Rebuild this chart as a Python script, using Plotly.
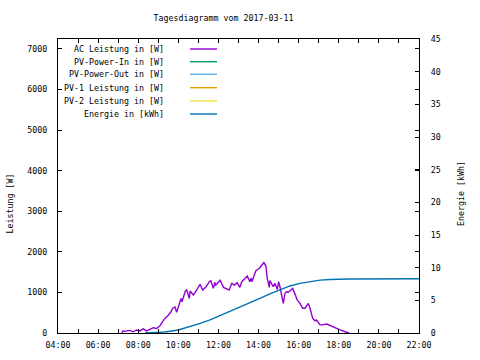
import plotly.graph_objects as go

DATE = "2017-03-11"

# AC power [W]
ac_time = ["07:11", "07:15", "07:18", "07:35", "07:45", "07:55", "08:05", "08:15", "08:25", "08:35",
           "08:45", "08:55", "09:05", "09:13", "09:20", "09:30", "09:37", "09:43", "09:50", "09:55",
           "10:01", "10:05", "10:08", "10:11", "10:21", "10:25", "10:33", "10:35", "10:45", "10:55",
           "11:03", "11:05", "11:13", "11:23", "11:33", "11:37", "11:45", "11:49", "11:52", "12:05",
           "12:15", "12:20", "12:32", "12:40", "12:48", "12:56", "13:04", "13:10", "13:19", "13:26",
           "13:34", "13:38", "13:40", "13:52", "14:02", "14:09", "14:16", "14:22", "14:26", "14:32",
           "14:34", "14:44", "14:49", "14:56", "15:00", "15:04", "15:14", "15:19", "15:24", "15:28",
           "15:42", "15:46", "15:56", "16:04", "16:12", "16:19", "16:29", "16:34", "16:42", "16:49",
           "16:53", "17:04", "17:09", "17:24", "17:29", "17:34", "17:54", "18:04", "18:19", "18:31"]
ac_power = [0, 50, 40, 65, 30, 75, 50, 100, 50, 100,
            130, 110, 180, 280, 360, 440, 510, 610, 640, 510,
            690, 810, 850, 770, 1035, 1060, 850, 1035, 935, 1060,
            1170, 1200, 1060, 1140, 1265, 1290, 1100, 1250, 1180, 1300,
            1125, 1110, 1060, 1225, 1180, 1240, 1125, 1265, 1350, 1405,
            1265, 1350, 1265, 1535, 1590, 1650, 1735, 1650, 1350, 1125,
            1290, 1140, 1225, 1075, 1265, 1140, 730, 980, 1020, 1000,
            1100, 1020, 810, 730, 610, 610, 730, 610, 360, 300,
            320, 200, 200, 220, 200, 180, 115, 75, 30, 0]

# Energy [kWh]
en_time = ["08:20", "09:20", "10:00", "10:35", "11:05", "11:35", "12:05", "12:34", "13:04", "13:34",
           "14:04", "14:34", "15:04", "15:34", "16:04", "16:34", "17:04", "17:34", "18:30", "22:00"]
en_kwh = [0.0, 0.15, 0.46, 0.97, 1.48, 2.0, 2.65, 3.3, 3.95, 4.6,
          5.3, 6.0, 6.65, 7.2, 7.6, 7.9, 8.1, 8.2, 8.27, 8.3]

legend_names = ["AC Leistung in [W]", "PV-Power-In in [W]", "PV-Power-Out in [W]",
                "PV-1 Leistung in [W]", "PV-2 Leistung in [W]", "Energie in [kWh]"]
legend_colors = ["#9400D3", "#009E73", "#56B4E9", "#E69F00", "#F0E442", "#0072B2"]

x_ticks = ["04:00", "06:00", "08:00", "10:00", "12:00", "14:00", "16:00", "18:00", "20:00", "22:00"]

FONT = "DejaVu Sans Mono"
FS = 8.3

FW, FH = 480, 360

fig = go.Figure()
fig.add_trace(go.Scatter(x=[f"{DATE} {t}" for t in ac_time], y=ac_power, mode="lines",
                         line=dict(color=legend_colors[0], width=1.4), name=legend_names[0],
                         showlegend=False))
fig.add_trace(go.Scatter(x=[f"{DATE} {t}" for t in en_time], y=en_kwh, mode="lines", yaxis="y2",
                         line=dict(color=legend_colors[5], width=1.4), name=legend_names[5],
                         showlegend=False))

# plot area in pixels
L, R, T, B = 58, 419, 39, 333
W, H = R - L, B - T
rows = [49, 61.7, 74.3, 87.7, 101, 114]
annotations = []
shapes = []
for name, col, ry in zip(legend_names, legend_colors, rows):
    py = (B - ry) / H
    annotations.append(dict(x=(166 - L) / W, y=py, xref="paper", yref="paper", text=name,
                            showarrow=False, xanchor="right", yanchor="middle",
                            font=dict(family=FONT, size=FS, color="black")))
    shapes.append(dict(type="line", xref="paper", yref="paper", x0=(190 - L) / W, x1=(217 - L) / W,
                       y0=py, y1=py, line=dict(color=col, width=1.4)))

annotations.append(dict(x=(9.5 - L) / W, y=(B - 204) / H, xref="paper", yref="paper",
                        text="Leistung [W]", showarrow=False, textangle=-90,
                        xanchor="center", yanchor="middle",
                        font=dict(family=FONT, size=FS, color="black")))
annotations.append(dict(x=(461 - L) / W, y=(B - 194) / H, xref="paper", yref="paper",
                        text="Energie [kWh]", showarrow=False, textangle=-90,
                        xanchor="center", yanchor="middle",
                        font=dict(family=FONT, size=FS, color="black")))

fig.update_layout(
    width=FW, height=FH,
    margin=dict(l=L, r=FW - R, t=T, b=FH - B, autoexpand=False),
    paper_bgcolor="white", plot_bgcolor="white",
    title=dict(text="Tagesdiagramm vom 2017-03-11", x=223.5 / FW, xref="container",
               xanchor="center", y=1 - 18 / FH, yref="container", yanchor="middle",
               font=dict(family=FONT, size=FS, color="black")),
    font=dict(family=FONT, size=FS, color="black"),
    showlegend=False,
    xaxis=dict(range=[f"{DATE} 04:00", f"{DATE} 22:00"], type="date", automargin=False,
               tickvals=[f"{DATE} {t}" for t in x_ticks], ticktext=x_ticks,
               ticks="inside", ticklen=4, tickcolor="black", showgrid=False, zeroline=False,
               showline=True, linecolor="black", linewidth=1, mirror="ticks",
               minor=dict(dtick=3600000, tick0=f"{DATE} 04:00", ticks="inside", ticklen=4,
                          tickcolor="black", showgrid=False),
               ticklabelstandoff=4),
    yaxis=dict(range=[0, 7246], tickvals=[0, 1000, 2000, 3000, 4000, 5000, 6000, 7000],
               automargin=False,
               ticks="inside", ticklen=4, tickcolor="black", showgrid=False, zeroline=False,
               showline=True, linecolor="black", linewidth=1, mirror="ticks",
               ticklabelstandoff=8),
    yaxis2=dict(range=[0, 45], tickvals=[0, 5, 10, 15, 20, 25, 30, 35, 40, 45], overlaying="y",
                automargin=False,
                side="right", ticks="inside", ticklen=4, tickcolor="black", showgrid=False,
                zeroline=False, showline=True, linecolor="black", linewidth=1,
                ticklabelstandoff=9),
    annotations=annotations,
    shapes=shapes,
)

fig.write_html("out.html", config={"displayModeBar": False},
               post_script="document.body.style.margin='0';")
